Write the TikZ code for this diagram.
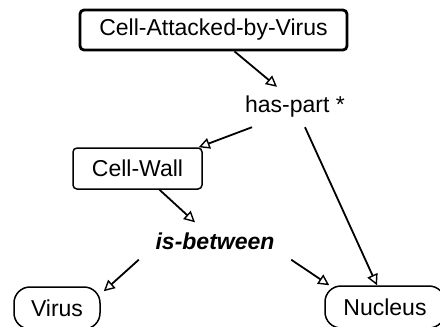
\documentclass[tikz,border=0pt]{standalone}
\usepackage{fontspec}
\setmainfont{Liberation Sans}
\usetikzlibrary{positioning,arrows.meta}

\begin{document}
\begin{tikzpicture}[
    x=1pt, y=-1pt,
    font=\fontsize{23}{27}\selectfont,
    concept/.style={rectangle, draw, line width=1.5pt, rounded corners=4pt, inner sep=0pt},
    topconcept/.style={concept, line width=2.8pt, minimum width=267pt, minimum height=40pt},
    leaf/.style={concept, rounded corners=16pt, minimum height=42pt},
    relation/.style={inner sep=0pt},
    link/.style={draw, line width=1.8pt, -{Triangle[open, length=11pt, width=11pt, line width=1.4pt]}}
]
\useasboundingbox (0,0) rectangle (440,327);

% Concepts
\node[topconcept] (attacked) at (213.5,30) {Cell-Attacked-by-Virus};
\node[concept, minimum width=129pt, minimum height=41pt] (cellwall) at (137.5,168.5) {Cell-Wall};
\node[leaf, minimum width=86pt] (virus) at (57,308) {Virus};
\node[leaf, minimum width=120pt] (nucleus) at (385,307) {Nucleus};

% Relations
\node[relation, minimum width=100pt, minimum height=40pt] (haspart) at (295,107) {has-part *};
\node[relation, font=\fontsize{23}{27}\selectfont\bfseries\itshape, minimum width=152pt, minimum height=37pt] (isbetween) at (215,241) {is-between};

% Links
\draw[link] ([xshift=21pt]attacked.south) -- ([xshift=-18pt]haspart.north);
\draw[link] ([xshift=-43pt]haspart.south) -- ([xshift=-4pt]cellwall.north east);
\draw[link] ([xshift=10pt]haspart.south) -- ([xshift=-8pt]nucleus.north);
\draw[link] ([xshift=22pt]cellwall.south) -- ([xshift=-20pt]isbetween.north);
\draw[link] (isbetween.south west) -- ([xshift=3pt,yshift=-5pt]virus.north east);
\draw[link] (isbetween.south east) -- ([xshift=5pt]nucleus.north west);

\end{tikzpicture}
\end{document}
